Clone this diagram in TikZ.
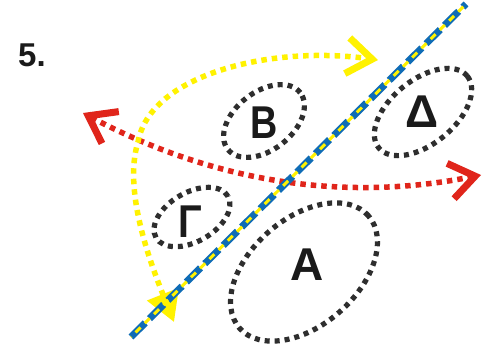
\documentclass[tikz,border=0pt]{standalone}
\usepackage{fontspec}
\setmainfont{Liberation Sans}
\usetikzlibrary{arrows.meta,shapes.geometric}
\definecolor{ylw}{HTML}{FFF200}
\definecolor{rd}{HTML}{E0251B}
\definecolor{bl}{HTML}{0F6CB6}
\definecolor{dk}{HTML}{2E2E2E}
\definecolor{txt}{HTML}{1A1A1A}
\tikzset{
  chev/.tip={Straight Barb[length=25pt,width=36pt,line width'=7pt]},
  tri/.tip={Triangle[length=30pt,width=33pt]},
}
\begin{document}
\begin{tikzpicture}[x=1pt,y=-1pt,
  ell/.style={ellipse, draw=dk, line width=5.2pt, dash pattern=on 5pt off 5pt, inner sep=0pt},
  lbl/.style={anchor=base, text=txt, font=\fontsize{46}{46}\selectfont\bfseries, inner sep=0pt},
  dotline/.style={line width=5.5pt, dash pattern=on 5.5pt off 5pt},
]
\useasboundingbox[fill=white] (0,0) rectangle (484,352);

% ellipses
\node[ell, minimum width=92pt, minimum height=58pt, rotate=38] (eB) at (264,121) {};
\node[ell, minimum width=114pt, minimum height=64pt, rotate=39] (eD) at (423,112) {};
\node[ell, minimum width=83pt, minimum height=49pt, rotate=30] (eG) at (192,217) {};
\node[ell, minimum width=171pt, minimum height=107pt, rotate=41] (eA) at (304,272) {};

% labels
\node[lbl, xscale=0.82] (lB) at (264,139) {B};
\node[lbl] (lD) at (422,128) {Δ};
\node[lbl, xscale=0.85] (lG) at (190,238) {Γ};
\node[lbl] (lA) at (307,281) {A};
\node[anchor=base west, text=txt, font=\fontsize{33}{33}\selectfont\bfseries, inner sep=0pt] (num) at (18,67) {5.};

% coordinates
\coordinate (rL) at (83,113);
\coordinate (rR) at (481,175);
\coordinate (yB) at (174,322);
\coordinate (yM) at (138,142);
\coordinate (yT) at (378,60);
\coordinate (dA) at (131,337);
\coordinate (dB) at (466,4);

% red arrow
\draw[rd, dotline, chev-chev] (rL) .. controls (200,175) and (330,205) .. (rR);

% yellow arrow
\draw[ylw, dotline, tri-chev] (yB) .. controls (150,262) and (123,190) .. (yM)
   .. controls (150,75) and (270,45) .. (yT);

% diagonal line
\draw[bl, line width=7pt, dash pattern=on 20pt off 6pt] (dA) -- (dB);
\draw[ylw, line width=3pt, dash pattern=on 7pt off 6pt, dash phase=6.5pt] (dA) -- (dB);
\end{tikzpicture}
\end{document}
